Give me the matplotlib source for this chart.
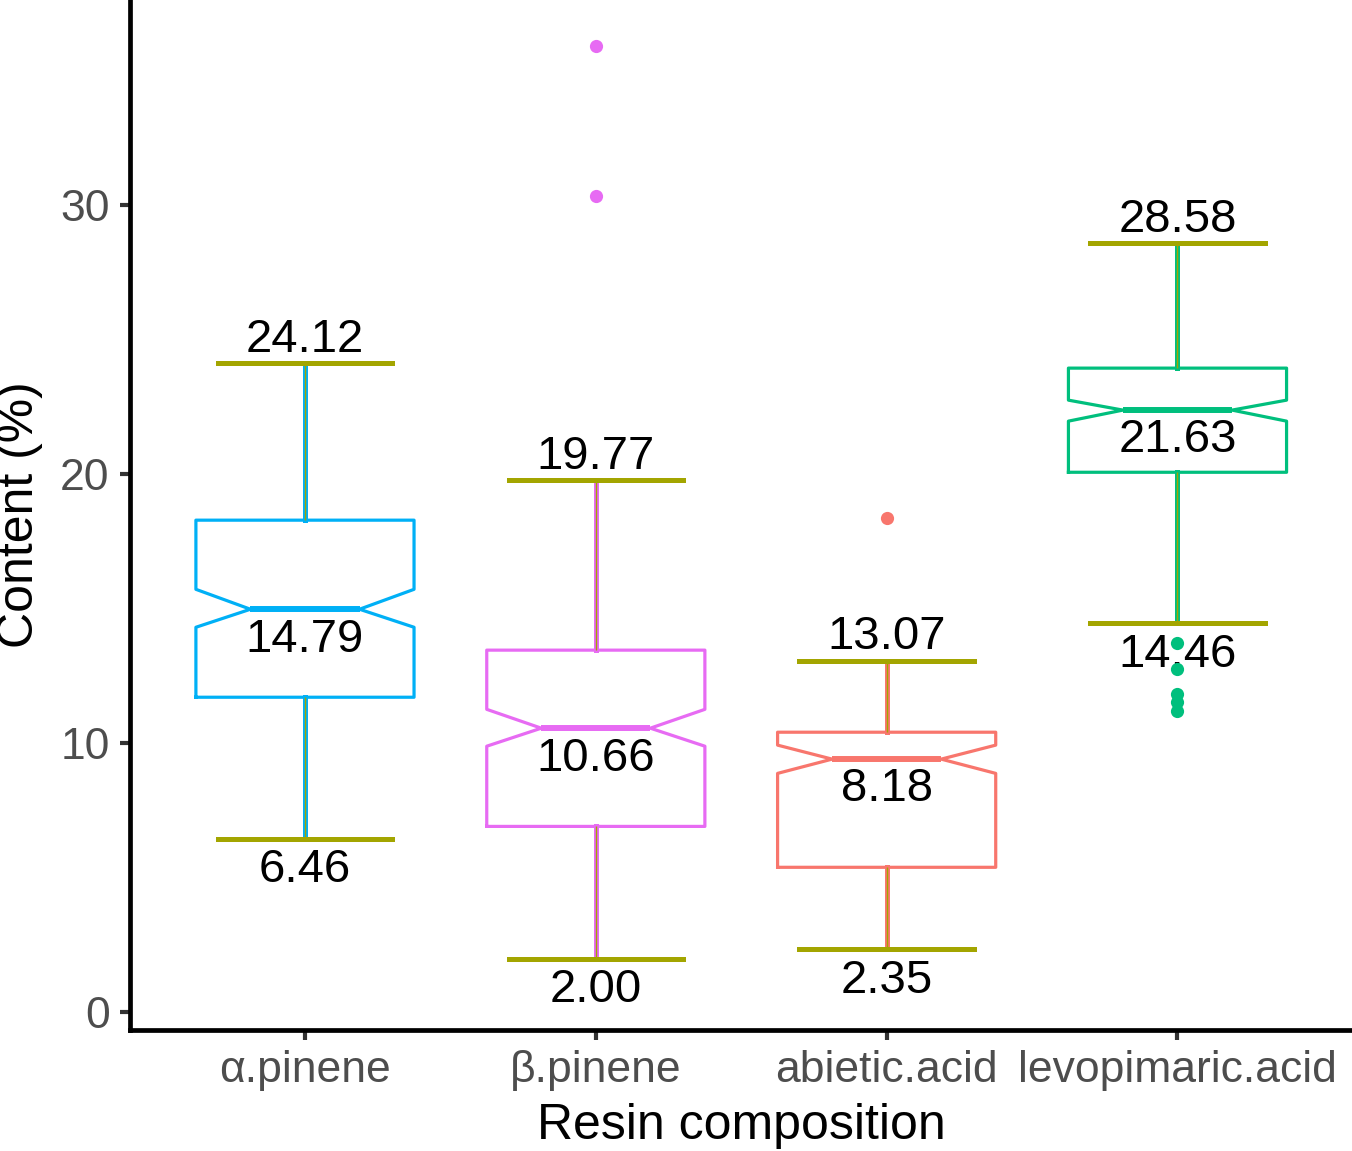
import matplotlib
matplotlib.use("Agg")
import matplotlib.pyplot as plt

# ----------------------------
# Datos
# ----------------------------
categorias = ["α.pinene", "β.pinene", "abietic.acid", "levopimaric.acid"]
colores = ["#00B0F6", "#E76BF3", "#F8766D", "#00BF7D"]
color_error = "#A3A500"

bigote_inf = [6.46, 2.00, 2.35, 14.46]
q1 = [11.71, 6.91, 5.39, 20.07]
mediana = [14.98, 10.56, 9.41, 22.38]
q3 = [18.29, 13.46, 10.41, 23.94]
bigote_sup = [24.12, 19.77, 13.07, 28.58]
notch_inf = [14.31, 9.89, 8.88, 21.97]
notch_sup = [15.72, 11.26, 9.93, 22.75]
atipicos = [[], [35.9, 30.33], [18.36], [13.72, 12.75, 11.82, 11.52, 11.19]]

etiqueta_sup = ["24.12", "19.77", "13.07", "28.58"]
etiqueta_med = ["14.79", "10.66", "8.18", "21.63"]
etiqueta_inf = ["6.46", "2.00", "2.35", "14.46"]

plt.rcParams["font.family"] = ["Liberation Sans", "DejaVu Sans"]

fig = plt.figure(figsize=(13.52, 11.51), dpi=100)
ax = fig.add_axes([0.0965, 0.1055, 0.9035, 0.8945])

stats = []
for i in range(len(categorias)):
    stats.append({
        "whislo": bigote_inf[i], "q1": q1[i], "med": mediana[i],
        "q3": q3[i], "whishi": bigote_sup[i],
        "cilo": notch_inf[i], "cihi": notch_sup[i],
        "fliers": atipicos[i], "label": categorias[i],
    })

pos = list(range(1, len(categorias) + 1))
bp = ax.bxp(stats, positions=pos, widths=0.75, shownotches=True,
            capwidths=0.6, manage_ticks=False,
            boxprops=dict(linewidth=2.3),
            medianprops=dict(linewidth=4.3),
            whiskerprops=dict(linewidth=3.6),
            capprops=dict(color=color_error, linewidth=3.6),
            flierprops=dict(marker="o", markersize=9.5, markeredgewidth=0))

for i, c in enumerate(colores):
    bp["boxes"][i].set_color(c)
    bp["medians"][i].set_color(c)
    bp["whiskers"][2 * i].set_color(c)
    bp["whiskers"][2 * i + 1].set_color(c)
    bp["fliers"][i].set_markerfacecolor(c)
    bp["fliers"][i].set_zorder(5)
    for cap in bp["caps"][2 * i:2 * i + 2]:
        cap.set_zorder(3)

# linea vertical del errorbar (olivo) sobre los bigotes
ax.vlines(pos, bigote_inf, q1, color=color_error, linewidth=1.0, zorder=2.5)
ax.vlines(pos, q3, bigote_sup, color=color_error, linewidth=1.0, zorder=2.5)

for i, x in enumerate(pos):
    ax.annotate(etiqueta_sup[i], (x, bigote_sup[i]), xytext=(0, 1),
                textcoords="offset points", ha="center", va="bottom",
                fontsize=34, zorder=4)
    ax.annotate(etiqueta_med[i], (x, mediana[i]), xytext=(0, -6),
                textcoords="offset points", ha="center", va="top",
                fontsize=34, zorder=4)
    ax.annotate(etiqueta_inf[i], (x, bigote_inf[i]), xytext=(0, -7),
                textcoords="offset points", ha="center", va="top",
                fontsize=34, zorder=4)

ax.set_xlim(0.4, 4.6)
ax.set_ylim(-0.64, 37.62)
ax.set_yticks([0, 10, 20, 30])
ax.set_xticks(pos)
ax.set_xticklabels(categorias)

for s in ["top", "right"]:
    ax.spines[s].set_visible(False)
for s in ["left", "bottom"]:
    ax.spines[s].set_linewidth(3.4)
    ax.spines[s].set_color("black")

ax.tick_params(axis="both", length=7, width=3, color="#333333",
               labelcolor="#4D4D4D", labelsize=32, pad=8)

ax.set_xlabel("Resin composition", fontsize=36, labelpad=8)
ax.set_ylabel("Content (%)", fontsize=36, labelpad=12)

fig.savefig("out.png", dpi=100)
